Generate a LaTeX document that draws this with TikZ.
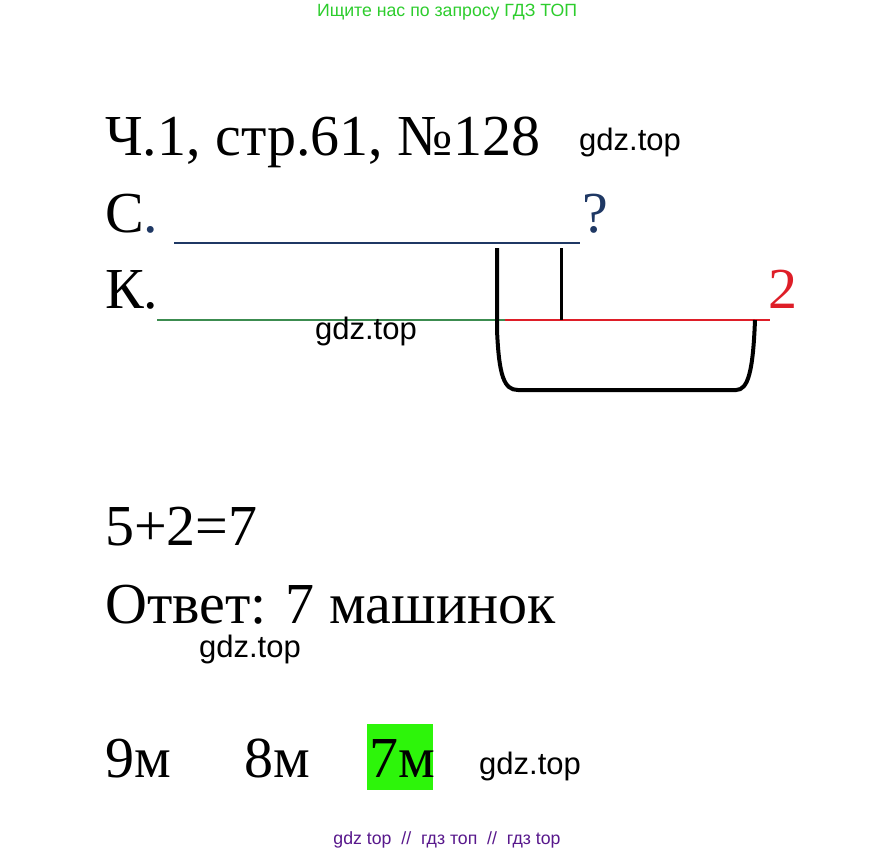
\documentclass[tikz,border=0pt]{standalone}
\usepackage{fontspec}
\usepackage{xcolor}
\setmainfont{Liberation Serif}
\newfontfamily\wmfont{Liberation Sans}
\definecolor{navy}{RGB}{31,56,100}
\definecolor{kgreen}{RGB}{60,140,80}
\definecolor{kred}{RGB}{222,30,40}
\definecolor{topgreen}{RGB}{45,205,45}
\definecolor{markgreen}{RGB}{45,245,10}
\definecolor{wmpurple}{RGB}{88,24,140}

\begin{document}
\begin{tikzpicture}[x=1pt,y=-1pt,
    every node/.style={inner sep=0pt},
    big/.style={anchor=base west,font=\fontsize{58}{58}\selectfont},
    wm/.style={font=\wmfont\fontsize{31}{31}\selectfont},
    small/.style={font=\wmfont\fontsize{17.7}{17.7}\selectfont}]
   \useasboundingbox[fill=white] (0,0) rectangle (894,855);
   \node[small,text=topgreen] (top) at (447,12) {Ищите нас по запросу ГДЗ ТОП};
   \node[big] (title) at (105,155) {Ч.1, стр.61, №128};
   \node[wm] (wm1) at (630,142) {gdz.top};
   % краткая запись
   \node[big] (s) at (105,232) {С\textcolor{navy}{.}};
   \node[big,text=navy] (q) at (582,232) {?};
   \node[big] (k) at (105,308) {К.};
   \node[big,text=kred] (two) at (768,308) {2};
   \coordinate (s1) at (174,243);
   \coordinate (s2) at (580,243);
   \coordinate (k1) at (157,320);
   \coordinate (k2) at (505,320);
   \coordinate (k3) at (770,320);
   \draw[navy,line width=2.5pt] (s1) -- (s2);
   \draw[kgreen,line width=2pt] (k1) -- (k2);
   \draw[kred,line width=2pt] (k2) -- (k3);
   \draw[line width=3pt] (561,248) -- (561,320);
   \draw[line width=4pt] (497,248) -- (497,330) .. controls (499,376) and (504,390) .. (518,390)
      -- (736,390) .. controls (748,390) and (753,372) .. (755,320);
   \node[wm] (wm2) at (366,331) {gdz.top};
   % решение
   \node[big] (eq) at (105,545) {5+2=7};
   \node[big] (ans) at (105,623) {Ответ: 7 машинок};
   \node[wm] (wm3) at (250,649) {gdz.top};
   \node[big] (n9) at (105,777) {9м};
   \node[big] (n8) at (244,777) {8м};
   \fill[markgreen] (367,724) rectangle (433,790);
   \node[big] (n7) at (369,777) {7м};
   \node[wm] (wm4) at (530,766) {gdz.top};
   \node[small,text=wmpurple] (bot) at (447,840) {gdz top~~//~~гдз топ~~//~~гдз top};
\end{tikzpicture}
\end{document}
